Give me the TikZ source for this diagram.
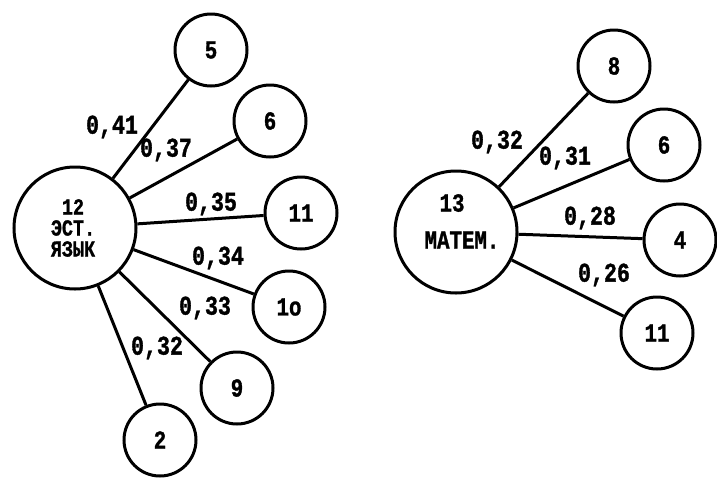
\documentclass[tikz,border=0pt]{standalone}
\usepackage{fontspec}
\newfontfamily\tw{Liberation Mono}[FakeStretch=0.8,FakeBold=1.2]
\begin{document}
\begin{tikzpicture}[x=1pt,y=-1pt,
  lw/.style={line width=3pt},
  big/.style={circle,draw,lw,minimum size=122pt,inner sep=0pt},
  small/.style={circle,draw,lw,minimum size=72pt,inner sep=0pt,font=\tw\bfseries\fontsize{26}{26}\selectfont},
  txt/.style={inner sep=0pt,font=\tw\bfseries\fontsize{26}{26}\selectfont},
  wt/.style={inner sep=0pt,font=\tw\bfseries\fontsize{27}{27}\selectfont},
  edge/.style={lw}]
\useasboundingbox (0,0) rectangle (717,477);
% left star
\node[big] (A) at (75,228) {};
\node[txt,align=center,font=\tw\bfseries\fontsize{23}{21}\selectfont] (At) at (73,228) {12\\ЭСТ.\\ЯЗЫК};
\node[small] (L5) at (211,50) {5};
\node[small] (L6) at (270,121) {6};
\node[small] (L11) at (301,213) {11};
\node[small] (L10) at (289,307) {1o};
\node[small] (L9) at (237,388) {9};
\node[small] (L2) at (160,440) {2};
\draw[edge] (A) -- (L5);
\draw[edge] (A) -- (L6);
\draw[edge] (A) -- (L11);
\draw[edge] (A) -- (L10);
\draw[edge] (A) -- (L9);
\draw[edge] (A) -- (L2);
\node[wt] (w1) at (112,127) {0,41};
\node[wt] (w2) at (166,150) {0,37};
\node[wt] (w3) at (211,204) {0,35};
\node[wt] (w4) at (218,258) {0,34};
\node[wt] (w5) at (205,308) {0,33};
\node[wt] (w6) at (157,348) {0,32};
% right star
\node[big] (B) at (456,232) {};
\node[txt] (B1) at (452,203) {13};
\node[txt] (B2) at (462,240) {МАТЕМ.};
\node[small] (R8) at (614,66) {8};
\node[small] (R6) at (664,145) {6};
\node[small] (R4) at (680,240) {4};
\node[small] (R11) at (657,333) {11};
\draw[edge] (B) -- (R8);
\draw[edge] (B) -- (R6);
\draw[edge] (B) -- (R4);
\draw[edge] (B) -- (R11);
\node[wt] (v1) at (497,142) {0,32};
\node[wt] (v2) at (565,158) {0,31};
\node[wt] (v3) at (590,218) {0,28};
\node[wt] (v4) at (604,275) {0,26};
\end{tikzpicture}
\end{document}
